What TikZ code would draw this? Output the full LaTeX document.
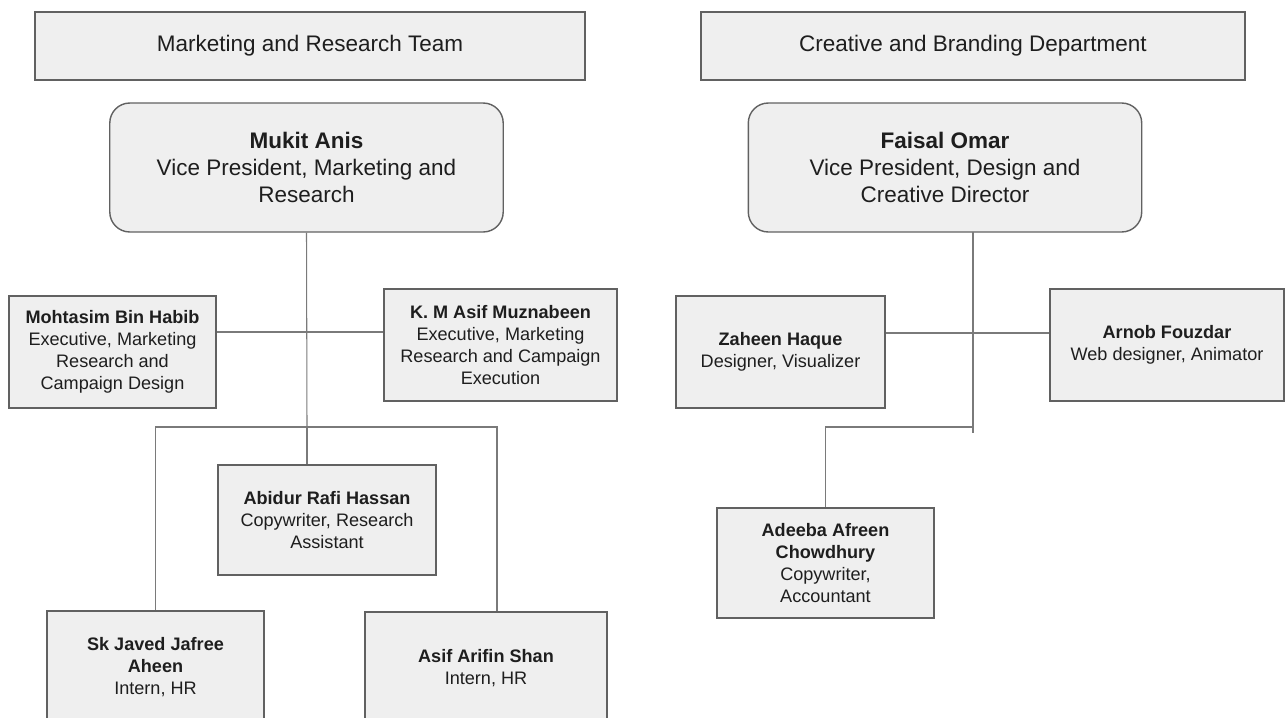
\documentclass[tikz,border=0pt]{standalone}
\usepackage{fontspec}
\setmainfont{Liberation Sans}
\usetikzlibrary{positioning}
\definecolor{boxfill}{HTML}{EFEFEF}
\definecolor{boxline}{HTML}{616161}
\definecolor{linkline}{HTML}{7A7A7A}
\definecolor{ink}{HTML}{1E1E1E}

\begin{document}
\begin{tikzpicture}[
    x=0.02cm, y=-0.02cm,
    base/.style={draw=boxline, line width=0.8pt, fill=boxfill, text=ink,
      align=center, inner sep=0pt},
    title/.style={base, minimum height=1.36cm, font=\fontsize{12.8}{15.3}\selectfont},
    head/.style={base, rounded corners=0.4cm, minimum height=2.58cm,
      minimum width=7.87cm, font=\fontsize{12.8}{15.3}\selectfont},
    box/.style={base, font=\fontsize{10.3}{12.5}\selectfont},
    link/.style={draw=linkline, line width=0.6pt}
  ]
    \useasboundingbox (0,0) rectangle (1285,717);

    \node[title, minimum width=11cm] (marketing) at (310,46) {Marketing and Research Team};
    \node[title, minimum width=10.88cm] (creative) at (973,46) {Creative and Branding Department};

    \node[head] (mukit) at (306.5,167.5) {\textbf{Mukit Anis}\\Vice President, Marketing and\\Research};
    \node[head] (faisal) at (945,167.5) {\textbf{Faisal Omar}\\Vice President, Design and\\Creative Director};

    \node[box, minimum width=4.14cm, minimum height=2.24cm] (mohtasim) at (112.5,352)
      {\textbf{Mohtasim Bin Habib}\\Executive, Marketing\\Research and\\Campaign Design};
    \node[box, minimum width=4.66cm, minimum height=2.24cm] (kmasif) at (500.5,345)
      {\textbf{K. M Asif Muznabeen}\\Executive, Marketing\\Research and Campaign\\Execution};
    \node[box, minimum width=4.36cm, minimum height=2.2cm] (abidur) at (327,520)
      {\textbf{Abidur Rafi Hassan}\\Copywriter, Research\\Assistant};
    \node[box, minimum width=4.34cm, minimum height=2.24cm] (skjaved) at (155.5,667)
      {\textbf{Sk Javed Jafree}\\\textbf{Aheen}\\Intern, HR};
    \node[box, minimum width=4.84cm, minimum height=2.24cm] (asifarifin) at (486,668)
      {\textbf{Asif Arifin Shan}\\Intern, HR};

    \node[box, minimum width=4.18cm, minimum height=2.24cm] (zaheen) at (780.5,352)
      {\textbf{Zaheen Haque}\\Designer, Visualizer};
    \node[box, minimum width=4.68cm, minimum height=2.24cm] (arnob) at (1167,345)
      {\textbf{Arnob Fouzdar}\\Web designer, Animator};
    \node[box, minimum width=4.34cm, minimum height=2.2cm] (adeeba) at (825.5,563)
      {\textbf{Adeeba Afreen}\\\textbf{Chowdhury}\\Copywriter,\\Accountant};

    \coordinate (mtap) at (307,332);
    \coordinate (mbar) at (307,427);
    \coordinate (mright) at (497,427);
    \coordinate (ftop) at (973,232);
    \coordinate (ftap) at (973,333);
    \coordinate (fbar) at (973,427);
    \coordinate (fend) at (973,433);

    \draw[link] (mukit.south) -- (mbar);
    \draw[link] (mtap) -- (mtap -| mohtasim.east);
    \draw[link] (mtap) -- (mtap -| kmasif.west);
    \draw[link] (mbar) -| (skjaved.north);
    \draw[link] (mbar) -- (mright) -- (mright |- asifarifin.north);
    \draw[link] (mbar) -- (mbar |- abidur.north);

    \draw[link] (ftop) -- (fend);
    \draw[link] (ftap) -- (ftap -| zaheen.east);
    \draw[link] (ftap) -- (ftap -| arnob.west);
    \draw[link] (fbar) -| (adeeba.north);
  \end{tikzpicture}
\end{document}
